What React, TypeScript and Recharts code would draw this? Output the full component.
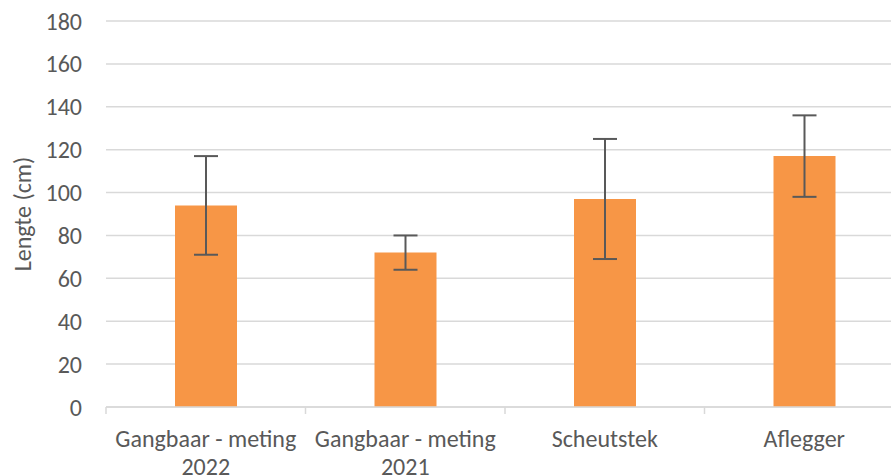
import { Bar, BarChart, CartesianGrid, ErrorBar, XAxis, YAxis } from "recharts";

const categories = ["Gangbaar - meting 2022", "Gangbaar - meting 2021", "Scheutstek", "Aflegger"];
const lengths = [94, 72, 97, 117];
const errors = [23, 8, 28, 19];
const yTicks = [0, 20, 40, 60, 80, 100, 120, 140, 160, 180];

const data = categories.map((name, i) => ({ name, lengte: lengths[i], err: errors[i] }));

const FONT = "Calibri, Carlito, 'Open Sans', sans-serif";
const TEXT = "#595959";
const BAND = 199.5;
const FS = 24;

function CategoryTick(props: any) {
  const { x, y, payload, index } = props;
  const words = String(payload.value).split(" ");
  const lines = words.length > 2 ? [words.slice(0, 3).join(" "), words.slice(3).join(" ")] : [payload.value];
  return (
    <g>
      <line x1={x - BAND / 2} y1={y - 8} x2={x - BAND / 2} y2={y - 1} stroke="#d9d9d9" strokeWidth={1.5} />
      {index === categories.length - 1 && (
        <line x1={x + BAND / 2} y1={y - 8} x2={x + BAND / 2} y2={y - 1} stroke="#d9d9d9" strokeWidth={1.5} />
      )}
      <text x={x} y={y + 32} textAnchor="middle" fill={TEXT} fontSize={FS} fontFamily={FONT}>
        {lines.map((l, i) => (
          <tspan key={i} x={x} dy={i === 0 ? 0 : 28}>
            {l}
          </tspan>
        ))}
      </text>
    </g>
  );
}

export default function App() {
  return (
    <div style={{ position: "absolute", left: 0, top: 0, width: 891, height: 476, overflow: "hidden", background: "#fff" }}>
      <BarChart
        width={910}
        height={476}
        data={data}
        margin={{ top: 21, right: 6, bottom: 0, left: 0 }}
      >
        <CartesianGrid vertical={false} stroke="#d9d9d9" strokeWidth={1.5} />
        <XAxis
          dataKey="name"
          axisLine={{ stroke: "#d9d9d9", strokeWidth: 1.5 }}
          tickLine={false}
          tick={<CategoryTick />}
          interval={0}
          height={69}
        />
        <YAxis
          domain={[0, 180]}
          ticks={yTicks}
          axisLine={false}
          tickLine={false}
          tickSize={0}
          tickMargin={24}
          width={106}
          tick={{ fill: TEXT, fontSize: FS, fontFamily: FONT }}
          label={{
            value: "Lengte (cm)",
            angle: -90,
            position: "insideLeft",
            offset: 22,
            fill: TEXT,
            fontSize: FS,
            fontFamily: FONT,
            style: { textAnchor: "middle" },
          }}
        />
        <Bar dataKey="lengte" fill="#F79646" barSize={62} isAnimationActive={false}>
          <ErrorBar dataKey="err" width={12} stroke="#595959" strokeWidth={2} isAnimationActive={false} />
        </Bar>
      </BarChart>
    </div>
  );
}
